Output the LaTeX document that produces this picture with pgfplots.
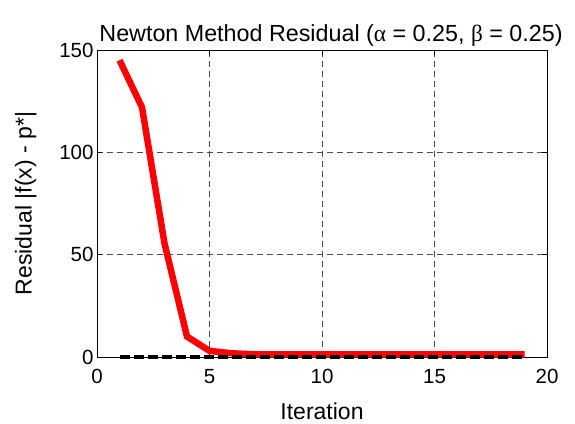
\documentclass[border=0pt]{standalone}
\usepackage{pgfplots}
\pgfplotsset{compat=1.18}
\usepackage{fontspec}
\setmainfont{Liberation Sans}
\newfontfamily\grk{Liberation Serif}
\begin{document}
\begin{tikzpicture}
\begin{axis}[
  name=ax, at={(0,0)}, anchor=south west,
  scale only axis, width=450pt, height=307pt,
  xmin=0, xmax=20, ymin=0, ymax=150,
  xtick={0,5,10,15,20}, ytick={0,50,100,150},
  tick align=inside, major tick length=5pt,
  xtick pos=both, ytick pos=both,
  grid=major, major grid style={dash pattern=on 6pt off 4pt, black!70, line width=0.7pt},
  axis line style={black, line width=0.8pt},
  tick style={black, line width=0.8pt},
  /pgf/number format/assume math mode=true,
  ticklabel style={font=\fontsize{20.5}{24}\selectfont},
  xticklabel style={yshift=-9pt},
  label style={font=\fontsize{23}{27}\selectfont},
  xlabel style={yshift=-12pt},
  ylabel style={yshift=16pt},
  title style={font=\fontsize{23.3}{27}\selectfont, yshift=-6pt, xshift=9pt},
  title={Newton Method Residual ({\grk α} = 0.25, {\grk β} = 0.25)},
  xlabel={Iteration}, ylabel={Residual |f(x) - p*|},
  clip=false,
]
\addplot[red, line width=6.5pt, line join=miter] coordinates {
(1,145) (2,122) (3,55.5) (4,10) (5,3) (6,1.8) (7,1.3) (8,1.3) (9,1.3) (10,1.3)
(11,1.3) (12,1.3) (13,1.3) (14,1.3) (15,1.3) (16,1.3) (17,1.3) (18,1.3) (19,1.3)};
\addplot[black, line width=3.5pt, dash pattern=on 10pt off 4pt] coordinates {
(1,0) (19,0)};
\end{axis}
\pgfresetboundingbox
\path[use as bounding box] (ax.south west) ++(-97pt,-66pt) rectangle ++(575pt,423pt);
\end{tikzpicture}
\end{document}
